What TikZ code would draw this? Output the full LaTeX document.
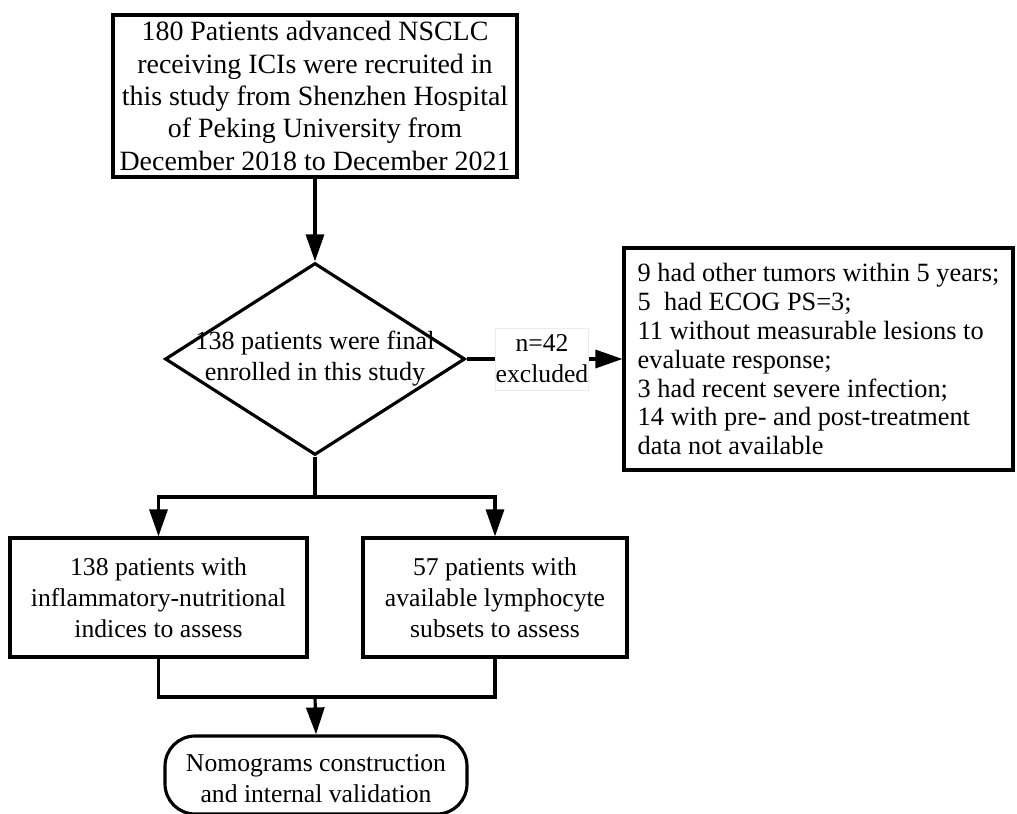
\documentclass[tikz,border=0pt]{standalone}
\usepackage{fontspec}
\setmainfont{Liberation Serif}
\usetikzlibrary{shapes.geometric,arrows.meta}

\begin{document}
\begin{tikzpicture}[
  x=0.02cm,y=-0.02cm,
  txt/.style={font=\fontsize{14.6}{17.6}\selectfont,align=center},
  flowbox/.style={txt,rectangle,draw,line width=1.8pt,inner sep=0pt},
  decision/.style={diamond,draw,line width=1.8pt,inner sep=0pt},
  endbox/.style={flowbox,rounded corners=0.6cm},
  flowline/.style={line width=1.8pt},
  flowarrow/.style={flowline,-{Triangle[length=0.54cm,width=0.36cm]}},
]
\useasboundingbox (0,0) rectangle (1017,814);

% Recruitment
\node[flowbox,line width=2.2pt,minimum width=8.08cm,minimum height=3.24cm,
      font=\fontsize{15.9}{18.4}\selectfont] (recruit) at (315,96)
  {180 Patients advanced NSCLC\\receiving ICIs were recruited in\\this study from Shenzhen Hospital\\of Peking University from\\December 2018 to December 2021};

% Final enrolment
\node[decision,minimum width=6cm,minimum height=3.84cm] (enroll) at (315,359) {};
\node[txt,font=\fontsize{14.9}{17.6}\selectfont] (enrolltext) at (enroll.center)
  {138 patients were final\\enrolled in this study};

% Exclusions
\node[txt,draw=black!8,fill=white,minimum width=1.82cm,minimum height=1.24cm,inner sep=0pt]
  (excl) at (542,359) {n=42\\excluded};
\node[flowbox,align=left,minimum width=7.78cm,minimum height=4.44cm,
      font=\fontsize{15}{16.5}\selectfont] (reasons) at (818.5,359)
  {9 had other tumors within 5 years;\\5\ \ had ECOG PS=3;\\11 without measurable lesions to\\evaluate response;\\3 had recent severe infection;\\14 with pre- and post-treatment\\data not available};

% Two cohorts
\node[flowbox,minimum width=5.94cm,minimum height=2.38cm] (inflam) at (158.5,597.5)
  {138 patients with\\inflammatory-nutritional\\indices to assess};
\node[flowbox,minimum width=5.28cm,minimum height=2.38cm] (lymph) at (495,597.5)
  {57 patients with\\available lymphocyte\\subsets to assess};

% Nomograms
\node[endbox,minimum width=6.04cm,minimum height=1.56cm,text height=1.1cm] (nomo) at (316,775)
  {Nomograms construction\\and internal validation};

\coordinate (split) at (315,497);
\coordinate (merge) at (315,697);

% Connectors
\draw[flowarrow] (recruit.south) -- (enroll.north);
\draw[flowline] (enroll.east) -- (excl.west);
\draw[flowarrow] (excl.east) -- (reasons.west);
\draw[flowline] (enroll.south) -- (split);
\draw[flowarrow] (split) -| (inflam.north);
\draw[flowarrow] (split) -| (lymph.north);
\draw[flowline] (inflam.south) |- (merge);
\draw[flowline] (lymph.south) |- (merge);
\draw[flowarrow] (merge) -- (nomo.north);

\end{tikzpicture}
\end{document}
